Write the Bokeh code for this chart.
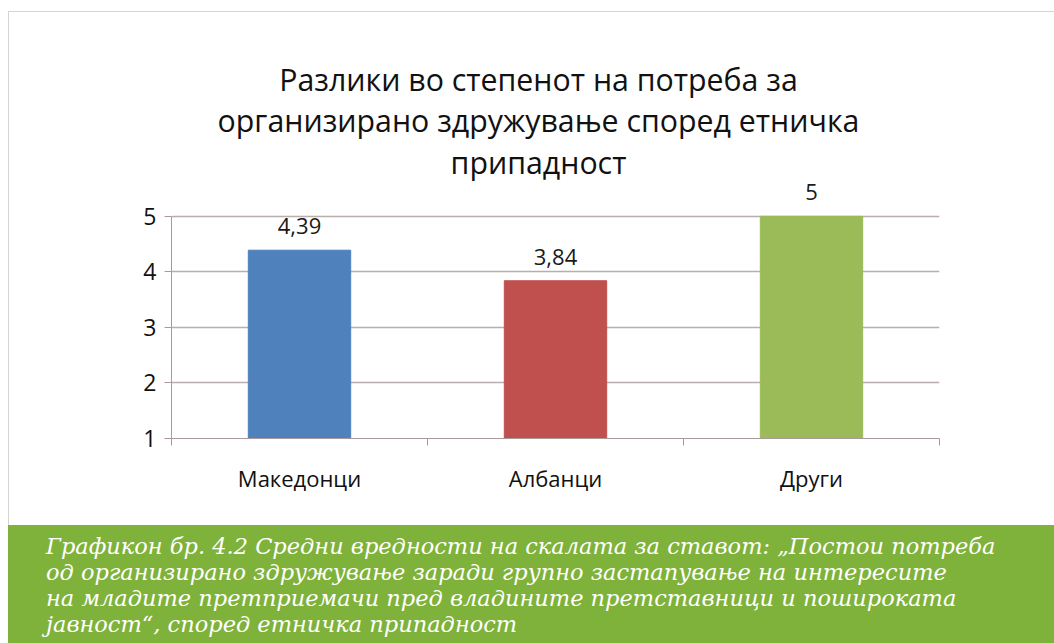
from bokeh.plotting import figure
from bokeh.models import Range1d, FixedTicker, Label, Div, ColumnDataSource, LinearAxis, Grid
from bokeh.layouts import column
from bokeh.core.properties import value
from bokeh.embed import file_html
from bokeh.resources import INLINE

# ---- data ----
categories = ["Македонци", "Албанци", "Други"]
values = [4.39, 3.84, 5]
bar_colors = ["#4F81BD", "#C0504D", "#9BBB59"]
y_ticks = [1, 2, 3, 4, 5]
title_lines = [
    "Разлики во степенот на потреба за",
    "организирано здружување според етничка",
    "припадност",
]
caption_lines = [
    "Графикон бр. 4.2 Средни вредности на скалата за ставот: „Постои потреба",
    "од организирано здружување заради групно застапување на интересите",
    "на младите претприемачи пред владините претставници и пошироката",
    "јавност“, според етничка припадност",
]

FONT = "Open Sans"
GRID = "#B9ADAD"
AXIS = "#A89A9A"
GREEN = "#7FB23A"
BORDER = "#D4D4D4"

xs = [i + 0.5 for i in range(len(categories))]
labels = [f"{v:g}".replace(".", ",") for v in values]
src = ColumnDataSource(dict(x=xs, top=values, color=bar_colors, label=labels))

p = figure(width=1054, height=525, output_backend="svg", toolbar_location=None,
           x_range=Range1d(0, len(categories)), y_range=Range1d(1, 8.885),
           x_axis_location=None, y_axis_location=None, title=None,
           min_border_left=171, min_border_right=115,
           min_border_top=0, min_border_bottom=87)
p.outline_line_color = None
p.background_fill_color = None
p.border_fill_color = None
p.styles = {"background":
            f"linear-gradient({BORDER},{BORDER}) 8px 11px / 1px 100% no-repeat, "
            f"linear-gradient({BORDER},{BORDER}) 8px 11px / 100% 1px no-repeat, white"}

p.vbar(x="x", top="top", bottom=1, width=0.4, color="color", source=src)
p.text(x="x", y="top", text="label", source=src, text_align="center",
       text_baseline="middle", y_offset=-24, text_font=value(FONT),
       text_font_size="22px", text_color="#1a1a1a")

# y axis
yax = LinearAxis(ticker=FixedTicker(ticks=y_ticks, minor_ticks=[]), bounds=(1, 5))
yax.axis_line_color = AXIS
yax.major_tick_line_color = AXIS
yax.major_tick_out = 7
yax.major_tick_in = 0
yax.minor_tick_line_color = None
yax.major_label_standoff = 8
yax.major_label_text_font = FONT
yax.major_label_text_font_size = "23px"
yax.major_label_text_color = "#111111"
p.add_layout(yax, "left")

# x axis: labels at bar centres, ticks at category boundaries
xax = LinearAxis(ticker=FixedTicker(ticks=xs, minor_ticks=list(range(len(categories) + 1))))
xax.major_label_overrides = {x: c for x, c in zip(xs, categories)}
xax.axis_line_color = AXIS
xax.major_tick_line_color = None
xax.major_tick_out = 0
xax.major_tick_in = 0
xax.minor_tick_line_color = AXIS
xax.minor_tick_out = 7
xax.minor_tick_in = 0
xax.major_label_standoff = 17
xax.major_label_text_font = FONT
xax.major_label_text_font_size = "22px"
xax.major_label_text_color = "#111111"
p.add_layout(xax, "below")

p.ygrid.visible = False
p.xgrid.visible = False
p.add_layout(Grid(dimension=1, ticker=yax.ticker, grid_line_color=GRID, grid_line_width=1.3))

# title lines (screen units relative to plot frame bottom-left)
baselines = [359, 318, 276]
for line, yb in zip(title_lines, baselines):
    p.add_layout(Label(x=367, y=yb, x_units="screen", y_units="screen", text=line,
                       text_align="center", text_baseline="alphabetic",
                       text_font=FONT, text_font_size="30.3px", text_color="#111111"))

cap = Div(text="<br>".join(caption_lines), width=1054, height=118, margin=0,
          styles={"background": f"linear-gradient(to right, white 8px, {GREEN} 8px)",
                  "color": "white",
                  "font-family": "DejaVu Serif", "font-style": "italic",
                  "font-size": "22.5px", "line-height": "26px",
                  "padding-left": "46px", "padding-top": "8px",
                  "box-sizing": "border-box", "white-space": "nowrap"})

layout = column(p, cap, spacing=0)
open("out.html", "w").write(file_html(layout, INLINE))
